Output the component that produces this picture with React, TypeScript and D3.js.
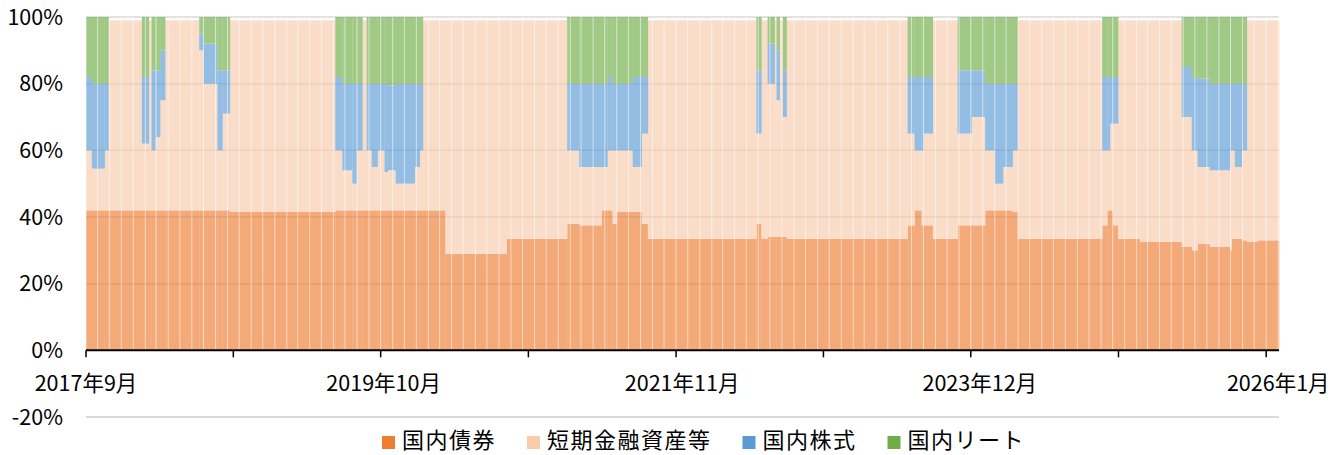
import React from 'react';
import * as d3 from 'd3';

const seriesKeys = ['bond', 'short', 'stock', 'reit'];
const seriesNames = ['国内債券', '短期金融資産等', '国内株式', '国内リート'];
const seriesColors = ['#ED7D31', '#F8CBAD', '#5B9BD5', '#70AD47'];

// allocation regimes (start date of each run, values in %)
const segStart = [
  '2017-09-01', '2017-09-16', '2017-10-19', '2017-10-29', '2018-01-23', '2018-02-10', '2018-02-17', '2018-02-27',
  '2018-03-11', '2018-03-24', '2018-06-20', '2018-07-01', '2018-08-06', '2018-08-19', '2018-09-07', '2019-06-06',
  '2019-06-24', '2019-07-20', '2019-07-31', '2019-08-15', '2019-08-26', '2019-09-08', '2019-09-23', '2019-10-11',
  '2019-10-19', '2019-11-09', '2019-12-28', '2020-01-10', '2020-01-18', '2020-03-16', '2020-08-21', '2021-01-24',
  '2021-02-24', '2021-04-23', '2021-05-08', '2021-05-21', '2021-06-01', '2021-07-12', '2021-08-04', '2021-08-20',
  '2022-05-27', '2022-06-09', '2022-06-25', '2022-07-13', '2022-07-18', '2022-07-26', '2022-08-03', '2022-08-13',
  '2023-06-21', '2023-07-09', '2023-07-27', '2023-08-01', '2023-08-25', '2023-10-28', '2023-12-03', '2024-01-07',
  '2024-02-01', '2024-02-22', '2024-03-18', '2024-03-31', '2024-11-04', '2024-11-17', '2024-11-24', '2024-12-02',
  '2024-12-15', '2025-02-10', '2025-05-28', '2025-06-23', '2025-07-08', '2025-08-08', '2025-09-30', '2025-10-04',
  '2025-10-12', '2025-10-30', '2025-11-12', '2025-12-10',
];
const lastDate = '2026-02-03';

const bondPct = [
  42, 42, 42, 42, 42, 42, 42, 42,
  42, 42, 42, 42, 42, 42, 41.5, 42,
  42, 42, 42, 42, 42, 42, 42, 42,
  42, 42, 42, 42, 42, 29, 33.5, 38,
  37.5, 42, 42, 38, 41.5, 41.5, 38, 33.5,
  38, 33.5, 34, 34, 34, 34, 34, 33.5,
  37.5, 42, 37.5, 37.5, 33.5, 37.5, 37.5, 42,
  42, 42, 41.5, 33.5, 37.5, 42, 42, 37.5,
  33.5, 32.5, 31, 30, 32, 31, 30, 33.5,
  33.5, 33, 32.5, 33,
];
const shortPct = [
  18, 12.5, 18, 57, 20, 57, 18, 22,
  33, 57, 48, 38, 18, 29, 57.5, 18,
  12, 8, 18, 57, 18, 13, 18, 11.5,
  12, 8, 13, 18, 57, 70, 65.5, 22,
  17.5, 13, 18, 22, 18.5, 13.5, 27, 65.5,
  27, 65.5, 46, 65, 41, 65, 36, 65.5,
  27.5, 18, 22.5, 27.5, 65.5, 27.5, 32.5, 18,
  8, 13, 18.5, 65.5, 22.5, 18, 26, 30.5,
  65.5, 66.5, 39, 30, 23, 23, 30, 26.5,
  21.5, 27, 66.5, 66,
];
const stockPct = [
  22, 25.5, 20, 0, 20, 0, 24, 20,
  15, 0, 5, 12, 24, 13, 0, 22,
  26, 30, 20, 0, 20, 25, 20, 26.5,
  25.5, 30, 25, 20, 0, 0, 0, 20,
  25, 25, 22, 20, 20, 27, 17, 0,
  19, 0, 12, 0, 15, 0, 14, 0,
  17, 22, 22, 17, 0, 19, 14, 20,
  30, 25, 20, 0, 22, 22, 14, 14,
  0, 0, 15, 22, 26.5, 26, 20, 20,
  25, 20, 0, 0,
];
const reitPct = [
  18, 20, 20, 0, 18, 0, 16, 16,
  10, 0, 5, 8, 16, 16, 0, 18,
  20, 20, 20, 0, 20, 20, 20, 20,
  20.5, 20, 20, 20, 0, 0, 0, 20,
  20, 20, 18, 20, 20, 18, 18, 0,
  16, 0, 8, 0, 10, 0, 16, 0,
  18, 18, 18, 18, 0, 16, 16, 20,
  20, 20, 20, 0, 18, 18, 18, 18,
  0, 0, 15, 18, 18.5, 20, 20, 20,
  20, 20, 0, 0,
];

const yTicks = [-20, 0, 20, 40, 60, 80, 100];
const xTickDates = ['2017-09-01', '2018-09-16', '2019-10-01', '2020-10-16', '2021-11-01', '2022-11-16', '2023-12-01', '2024-12-16', '2026-01-01'];
const xTickLabels = ['2017年9月', '', '2019年10月', '', '2021年11月', '', '2023年12月', '', '2026年1月'];

const W = 1336;
const H = 455;
const FONT = '"Noto Sans CJK JP", "Noto Sans", sans-serif';

export default function App() {
  const parse = d3.timeParse('%Y-%m-%d');
  const rows = segStart.map((s, i) => ({
    start: parse(s) as Date,
    end: parse(i + 1 < segStart.length ? segStart[i + 1] : lastDate) as Date,
    bond: bondPct[i],
    short: shortPct[i],
    stock: stockPct[i],
    reit: reitPct[i],
  }));

  const x = d3.scaleTime().domain([parse(segStart[0]) as Date, parse(lastDate) as Date]).range([86, 1279]);
  const y = d3.scaleLinear().domain([-20, 100]).range([417, 17]);

  const stacked = d3.stack<any>().keys(seriesKeys)(rows);
  const monthLines = d3.timeMonth.range(parse(segStart[0]) as Date, parse(lastDate) as Date);

  const x0 = x.range()[0];
  const labelSpread = 1.0102;

  const legendFont = 22;
  const legendSpacing = 1.5;
  const legendWidths = seriesNames.map((n) => n.length * (legendFont + legendSpacing));
  let lx = 382;
  const legendPos = legendWidths.map((w) => {
    const p = lx;
    lx += 13 + 7 + w + 31;
    return p;
  });

  return (
    <svg width={W} height={H} style={{ position: 'absolute', left: 0, top: 0, background: '#fff' }} fontFamily={FONT}>
      {/* gridlines */}
      {yTicks.filter((t) => t !== 0).map((t) => (
        <line key={t} x1={86} x2={1279} y1={y(t)} y2={y(t)} stroke="#D9D9D9" strokeWidth={t === -20 ? 2 : 1.5} />
      ))}
      {/* bars */}
      <g opacity={0.65}>
        {stacked.map((layer, li) => (
          <g key={seriesKeys[li]} fill={seriesColors[li]}>
            {layer.map((d, i) => {
              const r = d.data;
              const h = y(d[0]) - y(d[1]);
              if (h <= 0) return null;
              return <rect key={i} x={x(r.start)} width={x(r.end) - x(r.start) + 0.3} y={y(d[1])} height={h} />;
            })}
          </g>
        ))}
        {monthLines.map((m, i) => (
          <line key={i} x1={x(m)} x2={x(m)} y1={y(100)} y2={y(0)} stroke="#fff" strokeOpacity={0.55} strokeWidth={1} />
        ))}
      </g>
      {/* axis line + ticks */}
      <line x1={86} x2={1279} y1={y(0)} y2={y(0)} stroke="#000" strokeWidth={2} />
      {xTickDates.map((d, i) => {
        const tx = x(parse(d) as Date);
        return <line key={i} x1={tx} x2={tx} y1={y(0)} y2={y(0) + 7} stroke="#000" strokeWidth={1.5} />;
      })}
      {/* x labels */}
      {xTickDates.map((d, i) =>
        xTickLabels[i] ? (
          <text key={i} x={x0 + (x(parse(d) as Date) - x0) * labelSpread} y={383} dy="0.36em" textAnchor="middle" fontSize={21.5} fill="#000">
            {xTickLabels[i]}
          </text>
        ) : null
      )}
      {/* y labels */}
      {yTicks.map((t) => (
        <text key={t} x={63} y={y(t)} dy="0.36em" textAnchor="end" fontSize={21.5} fill="#000">
          {`${t}%`}
        </text>
      ))}
      {/* legend */}
      {seriesNames.map((n, i) => (
        <g key={n}>
          <rect x={legendPos[i]} y={436} width={13} height={13} fill={seriesColors[i]} />
          <text x={legendPos[i] + 20} y={440.5} dy="0.36em" fontSize={legendFont} letterSpacing={legendSpacing} fill="#000">
            {n}
          </text>
        </g>
      ))}
    </svg>
  );
}
